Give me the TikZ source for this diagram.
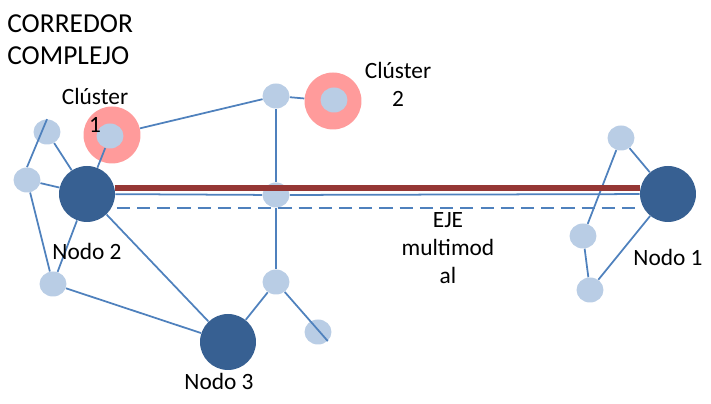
\documentclass[tikz,border=0pt]{standalone}
\usepackage{fontspec}
\setmainfont{Carlito}
\usetikzlibrary{shapes.geometric}

\definecolor{nodoazul}{HTML}{376092}
\definecolor{nodoclaro}{HTML}{B9CDE5}
\definecolor{lineaazul}{HTML}{4F81BD}
\definecolor{ejerojo}{HTML}{953735}
\definecolor{clusterrosa}{HTML}{FF9B9B}

\tikzset{
	nodo/.style={circle, fill=nodoazul, minimum size=1.12cm, inner sep=0pt},
	sub/.style={ellipse, fill=nodoclaro, minimum width=0.54cm, minimum height=0.5cm, inner sep=0pt},
	anillo/.style={circle, fill=clusterrosa, minimum size=1.14cm, inner sep=0pt},
	enlace/.style={lineaazul, line width=1pt},
	etiqueta/.style={font=\fontsize{13.3}{16}\selectfont, align=center, inner sep=0pt},
	titulo/.style={font=\fontsize{15.6}{18.7}\selectfont, align=left, inner sep=0pt}
}

\begin{document}
\begin{tikzpicture}[x=0.02cm, y=-0.02cm]
	\useasboundingbox (0,0) rectangle (711,404);
	% clusters
	\node[anillo] (anillo1) at (112,135) {};
	\node[anillo] (anillo2) at (333,101) {};
	% nodos principales
	\node[nodo] (n2) at (87,194) {};
	\node[nodo] (n1) at (668,194) {};
	\node[nodo] (n3) at (228,342) {};
	% nodos secundarios
	\node[sub] (a1) at (47,132) {};
	\node[sub] (a2) at (27,180) {};
	\node[sub] (a3) at (53,284) {};
	\node[sub] (c1) at (110,136) {};
	\node[sub] (c2) at (334,100) {};
	\node[sub] (t1) at (276,96) {};
	\node[sub] (m) at (276,195) {};
	\node[sub] (b) at (276,282) {};
	\node[sub] (c) at (318,332) {};
	\node[sub] (r1) at (621,138) {};
	\node[sub] (r2) at (583,236) {};
	\node[sub] (r3) at (590,290) {};
	% enlaces
	\draw[enlace] (a1.north) -- (a2.north);
	\draw[enlace] (a1) -- (n2);
	\draw[enlace] (a2) -- (n2);
	\draw[enlace] (a2) -- (a3);
	\draw[enlace] (a3) -- (n2);
	\draw[enlace] (a3) -- (n3);
	\draw[enlace] (n2) -- (n3);
	\draw[enlace] (n2) -- (c1);
	\draw[enlace] (anillo1) -- (t1);
	\draw[enlace] (t1) -- (anillo2);
	\draw[enlace] (t1) -- (m);
	\draw[enlace] (m) -- (b);
	\draw[enlace] (b) -- (n3);
	\draw[enlace] (b) -- (c.south east);
	\draw[enlace] (r1) -- (n1);
	\draw[enlace] (r1) -- (r2);
	\draw[enlace] (r2) -- (r3);
	\draw[enlace] (r3) -- (n1);
	% eje
	\draw[enlace] (n2) -- (m) -- (n1);
	\draw[ejerojo, line width=3.4pt] (n2.12) -- (n1.168);
	\draw[enlace, dash pattern=on 7.5pt off 4pt, shorten <=3pt, shorten >=2.5pt] (n2.-30) -- (n1.-150);
	% textos (base = ultima linea)
	\node[titulo, anchor=base west] (tit) at (7,65) {CORREDOR\\COMPLEJO};
	\node[etiqueta, anchor=base] (lc1) at (95,133) {Clúster\\1};
	\node[etiqueta, anchor=base] (lc2) at (398,107) {Clúster\\2};
	\node[etiqueta, anchor=base] (ln2) at (87,260) {Nodo 2};
	\node[etiqueta, anchor=base] (ln1) at (668,266) {Nodo 1};
	\node[etiqueta, anchor=base] (ln3) at (219,390) {Nodo 3};
	\node[etiqueta, anchor=base] (leje) at (448,284) {EJE\\multimod\\al};
\end{tikzpicture}
\end{document}
